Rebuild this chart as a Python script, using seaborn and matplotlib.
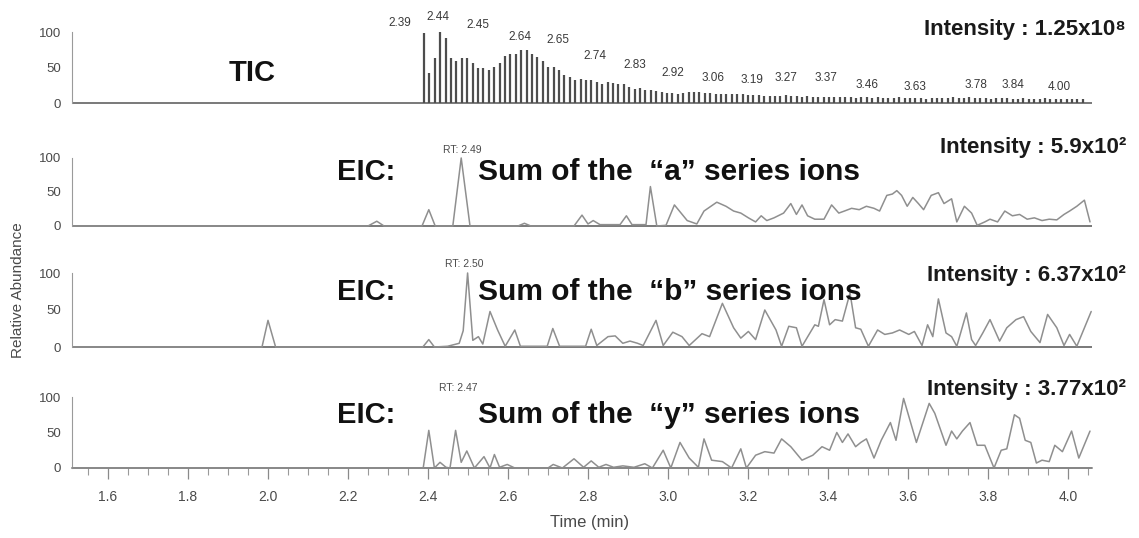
import numpy as np
import pandas as pd
import seaborn as sns
import matplotlib.pyplot as plt
from matplotlib.ticker import MultipleLocator

# ---- data ----
# TIC: one spike per scan, regular scan interval
tic_start = 2.39
tic_step = 0.0135
tic_heights = [98, 42, 64, 100, 92, 64, 59, 64, 64, 56, 49, 49, 47, 51, 56, 66, 69, 69,
               75, 74, 69, 65, 59, 51, 51, 47, 40, 37, 33, 34, 33, 32, 29, 27, 29, 28,
               27, 27, 22, 20, 21, 19, 19, 17, 15, 14, 14, 12, 14, 16, 16, 15, 14, 14,
               13, 12, 13, 12, 12, 12, 11, 11, 11, 10, 10, 10,
               10, 11, 10, 10, 9, 10, 9, 9, 9,
               8, 9, 8, 8, 8, 7, 8, 8, 7, 8, 7,
               7, 7, 8, 7, 7, 7, 7, 6, 7, 7, 7,
               7, 8, 7, 7, 8, 7, 7, 7, 6, 7, 7,
               7, 6, 6, 7, 6, 6, 6, 7, 6, 6, 6, 6, 5, 6, 5]
tic_times = tic_start + tic_step * np.arange(len(tic_heights))

tic_labels = ['2.39', '2.44', '2.45', '2.64', '2.65', '2.74', '2.83', '2.92', '3.06',
              '3.19', '3.27', '3.37', '3.46', '3.63', '3.78', '3.84', '4.00']
tic_label_x = [2.33, 2.425, 2.525, 2.63, 2.725, 2.8175, 2.9175, 3.0125, 3.1125,
               3.21, 3.295, 3.395, 3.4975, 3.6175, 3.77, 3.8625, 3.9775]
tic_label_y = [113, 121, 110, 93, 89, 66, 54, 42, 35, 32, 35, 35, 25, 22, 25, 25, 22]

# EIC "a" series
a_time = [1.51, 2.25, 2.272, 2.29, 2.385, 2.402, 2.418, 2.462, 2.483, 2.505, 2.625, 2.641,
          2.657, 2.765, 2.785, 2.80, 2.813, 2.83, 2.88, 2.896, 2.91, 2.945, 2.956, 2.972,
          2.995, 3.016, 3.048, 3.072, 3.090, 3.122, 3.145, 3.164, 3.182, 3.201, 3.219,
          3.233, 3.247, 3.265, 3.289, 3.307, 3.321, 3.335, 3.349, 3.367, 3.390, 3.409,
          3.427, 3.441, 3.459, 3.478, 3.496, 3.515, 3.529, 3.547, 3.561, 3.572, 3.584,
          3.598, 3.612, 3.626, 3.639, 3.658, 3.676, 3.690, 3.709, 3.722, 3.741, 3.759,
          3.773, 3.792, 3.805, 3.824, 3.842, 3.861, 3.879, 3.898, 3.916, 3.935, 3.953,
          3.972, 3.990, 4.004, 4.022, 4.041, 4.055]
a_abund = [0, 0, 7, 0, 0, 24, 0, 0, 100, 0, 0, 4,
           0, 0, 16, 3, 8, 2, 2, 15, 2, 2, 58, 0,
           1, 31, 8, 3, 22, 35, 29, 22, 19, 12, 6,
           15, 8, 12, 19, 33, 17, 31, 15, 10, 10, 31,
           19, 22, 26, 24, 29, 26, 22, 45, 47, 52, 45,
           29, 42, 33, 24, 45, 49, 33, 40, 6, 29, 19,
           1, 6, 10, 6, 22, 15, 17, 10, 12, 8, 10,
           9, 17, 22, 29, 38, 6]

# EIC "b" series
b_time = [1.51, 1.985, 2.00, 2.019, 2.387, 2.402, 2.416, 2.449, 2.478, 2.488, 2.499, 2.512,
          2.526, 2.537, 2.555, 2.574, 2.593, 2.617, 2.631, 2.698, 2.712, 2.729, 2.794, 2.808,
          2.822, 2.850, 2.868, 2.887, 2.905, 2.924, 2.938, 2.970, 2.988, 3.012, 3.035, 3.053,
          3.085, 3.104, 3.136, 3.164, 3.182, 3.201, 3.219, 3.242, 3.270, 3.284, 3.302, 3.321,
          3.335, 3.367, 3.376, 3.390, 3.404, 3.418, 3.436, 3.455, 3.469, 3.482, 3.501, 3.524,
          3.542, 3.561, 3.579, 3.602, 3.616, 3.635, 3.649, 3.662, 3.676, 3.695, 3.709, 3.722,
          3.746, 3.759, 3.769, 3.787, 3.805, 3.829, 3.847, 3.870, 3.889, 3.907, 3.930, 3.949,
          3.972, 3.990, 4.004, 4.022, 4.058]
b_abund = [0, 0, 36, 0, 0, 10, 0, 1, 5, 22, 100, 9,
           14, 4, 48, 23, 1, 23, 1, 1, 25, 1, 1, 24,
           2, 14, 15, 5, 8, 5, 2, 36, 2, 20, 14, 2,
           18, 14, 59, 26, 12, 21, 10, 50, 23, 1, 28, 26,
           1, 30, 28, 64, 30, 37, 35, 73, 26, 24, 1, 23,
           17, 19, 23, 17, 21, 2, 30, 14, 65, 19, 14, 1,
           46, 10, 2, 19, 37, 8, 26, 37, 41, 21, 6, 44,
           26, 2, 17, 1, 48]

# EIC "y" series
y_time = [1.51, 2.388, 2.402, 2.416, 2.430, 2.445, 2.455, 2.469, 2.483, 2.497, 2.516, 2.540,
          2.555, 2.566, 2.579, 2.598, 2.617, 2.700, 2.713, 2.736, 2.765, 2.789, 2.808, 2.827,
          2.845, 2.864, 2.887, 2.915, 2.942, 2.961, 2.988, 3.007, 3.030, 3.053, 3.076, 3.090,
          3.109, 3.136, 3.159, 3.182, 3.196, 3.219, 3.242, 3.265, 3.284, 3.307, 3.335, 3.362,
          3.385, 3.404, 3.422, 3.436, 3.450, 3.469, 3.482, 3.496, 3.515, 3.533, 3.556, 3.570,
          3.589, 3.621, 3.653, 3.667, 3.695, 3.709, 3.722, 3.736, 3.755, 3.773, 3.792, 3.815,
          3.833, 3.847, 3.866, 3.879, 3.893, 3.907, 3.921, 3.935, 3.953, 3.967, 3.986, 4.009,
          4.027, 4.055]
y_abund = [0, 0, 53, 0, 8, 1, 0, 53, 8, 24, 0, 16,
           0, 19, 1, 5, 0, 0, 5, 0, 13, 1, 10, 1,
           5, 1, 3, 1, 6, 0, 25, 0, 36, 14, 1, 41,
           11, 9, 0, 27, 0, 18, 23, 21, 41, 30, 11, 18,
           30, 25, 50, 36, 48, 30, 36, 41, 14, 39, 64, 39,
           98, 36, 91, 77, 32, 52, 41, 52, 64, 32, 32, 0,
           25, 27, 75, 70, 39, 36, 7, 11, 9, 32, 23, 52,
           14, 52]

eic_series = ['a', 'b', 'y']
eic_rt = ['RT: 2.49', 'RT: 2.50', 'RT: 2.47']
eic_rt_x = [2.485, 2.49, 2.475]
intensity_text = ['Intensity : 1.25x10\u2078', 'Intensity : 5.9x10\u00b2',
                  'Intensity : 6.37x10\u00b2', 'Intensity : 3.77x10\u00b2']

# ---- layout (pixels of the 1139x538 image) ----
W, H = 1139, 538
panel_zero_px = [103, 226, 347, 468]
panel_full_px = [32, 158, 273, 397]
intensity_y_px = [30, 148, 276, 390]
eic_y_px = [172, 292, 415]
x_left_px, x_right_px = 72, 1092
YMIN, YMAX = -4, 120

sns.set_theme(style='white')
plt.rcParams['font.family'] = ['Liberation Sans', 'DejaVu Sans']

fig = plt.figure(figsize=(W / 100, H / 100), dpi=100)
line_grey = '#8f8f8f'
text_grey = '#4a4a4a'

axes = []
for y0, y100 in zip(panel_zero_px, panel_full_px):
    unit = (y0 - y100) / 100
    bot = y0 - YMIN * unit
    top = y100 - (YMAX - 100) * unit
    ax = fig.add_axes([x_left_px / W, 1 - bot / H, (x_right_px - x_left_px) / W, (bot - top) / H])
    ax.set_xlim(1.51, 4.06)
    ax.set_ylim(YMIN, YMAX)
    ax.set_facecolor('none')
    for s in ['top', 'right', 'bottom']:
        ax.spines[s].set_visible(False)
    ax.spines['left'].set_color('#9a9a9a')
    ax.spines['left'].set_linewidth(0.8)
    ax.spines['left'].set_bounds(0, 100)
    ax.set_yticks([0, 50, 100])
    ax.yaxis.set_minor_locator(MultipleLocator(10))
    ax.tick_params(axis='y', which='major', direction='out', length=6, width=0.8,
                   color='#9a9a9a', labelsize=9.5, labelcolor=text_grey, pad=2)
    ax.tick_params(axis='y', which='minor', direction='out', length=3, width=0.7, color='#9a9a9a')
    ax.tick_params(axis='x', bottom=False, labelbottom=False)
    ax.axhline(0, color='#6e6e6e', lw=1.3, zorder=1)
    ax.set_xlabel('')
    ax.set_ylabel('')
    axes.append(ax)

# TIC panel
ax = axes[0]
ax.vlines(tic_times, 0, tic_heights, color='#4d4d4d', lw=1.6)
for txt, lx, ly in zip(tic_labels, tic_label_x, tic_label_y):
    ax.text(lx, ly, txt, ha='center', va='center', fontsize=8.5, color='#3a3a3a')

# EIC panels
eic_frames = [pd.DataFrame({'time': a_time, 'abundance': a_abund}),
              pd.DataFrame({'time': b_time, 'abundance': b_abund}),
              pd.DataFrame({'time': y_time, 'abundance': y_abund})]
for ax, df, rt, rtx in zip(axes[1:], eic_frames, eic_rt, eic_rt_x):
    sns.lineplot(data=df, x='time', y='abundance', ax=ax, color=line_grey,
                 linewidth=1.1, estimator=None)
    ax.text(rtx, 112, rt, ha='center', va='center', fontsize=7.5, color=text_grey)
    ax.set_xlabel('')
    ax.set_ylabel('')
    ax.set_xlim(1.51, 4.06)
    ax.set_ylim(YMIN, YMAX)

# bottom x axis
ax = axes[-1]
ax.spines['bottom'].set_visible(True)
ax.spines['bottom'].set_position(('data', 0))
ax.spines['bottom'].set_color('#8a8a8a')
ax.spines['bottom'].set_linewidth(1.2)
ax.xaxis.set_major_locator(MultipleLocator(0.2))
ax.xaxis.set_minor_locator(MultipleLocator(0.05))
ax.xaxis.set_major_formatter(plt.FuncFormatter(lambda v, p: f'{v:.1f}'))
ax.tick_params(axis='x', which='major', bottom=True, labelbottom=True, direction='out',
               length=8, width=0.9, color='#8a8a8a', labelsize=10, labelcolor=text_grey, pad=8)
ax.tick_params(axis='x', which='minor', bottom=True, direction='out', length=5,
               width=0.8, color='#9a9a9a')


def fig_txt(x, y, s, **kw):
    fig.text(x / W, 1 - y / H, s, **kw)


fig_txt(252, 73, 'TIC', ha='center', va='center', fontsize=21, weight='bold', color='#111111')
for ser, yy in zip(eic_series, eic_y_px):
    fig_txt(337, yy, 'EIC:', ha='left', va='center', fontsize=21, weight='bold', color='#111111')
    fig_txt(478, yy, 'Sum of the  \u201c' + ser + '\u201d series ions', ha='left', va='center',
            fontsize=21.5, weight='bold', color='#111111')
for txt, yy in zip(intensity_text, intensity_y_px):
    fig_txt(1126, yy, txt, ha='right', va='center', fontsize=16, weight='bold', color='#1a1a1a')

fig_txt(18, 290, 'Relative Abundance', ha='center', va='center', rotation=90,
        fontsize=11, color=text_grey)
fig_txt(590, 523, 'Time (min)', ha='center', va='center', fontsize=12, color=text_grey)

fig.savefig('out.png', dpi=100)
